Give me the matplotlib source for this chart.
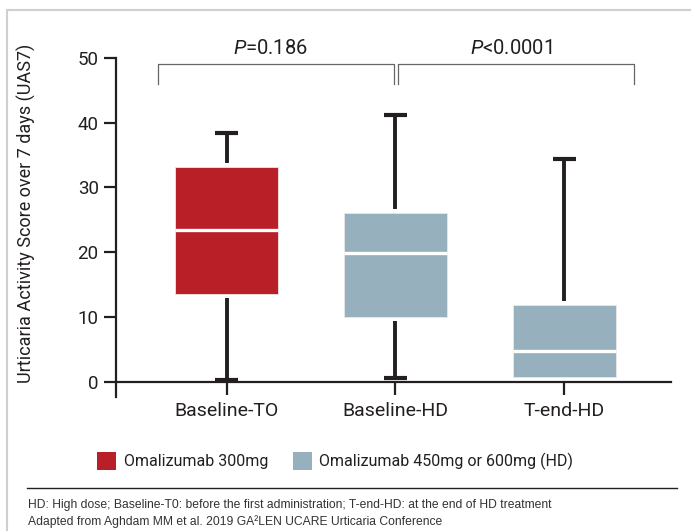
import matplotlib
matplotlib.use('Agg')
import matplotlib.pyplot as plt
from matplotlib.patches import Patch, Rectangle
from matplotlib.lines import Line2D

# values
groups = ['Baseline-TO', 'Baseline-HD', 'T-end-HD']
whis_low = [0.2, 0.6, 0.7]
q1 = [13.5, 10.0, 0.7]
median = [23.4, 19.8, 4.8]
q3 = [33.2, 26.0, 11.9]
whis_high = [38.4, 41.2, 34.4]
box_colors = ['#b81f27', '#97b0be', '#97b0be']

legend_labels = ['Omalizumab 300mg', 'Omalizumab 450mg or 600mg (HD)']
legend_colors = ['#b81f27', '#97b0be']

brackets = [(0.593, 1.99), (2.015, 3.414)]
p_texts = ['$\\it{P}$=0.186', '$\\it{P}$<0.0001']

footnote = ('HD: High dose; Baseline-T0: before the first administration; '
            'T-end-HD: at the end of HD treatment\n'
            'Adapted from Aghdam MM et al. 2019 GA\u00b2LEN UCARE Urticaria Conference')

dark = '#231f20'
plt.rcParams['font.family'] = ['Roboto', 'DejaVu Sans']
plt.rcParams['mathtext.fontset'] = 'custom'
plt.rcParams['mathtext.it'] = 'Roboto:italic'
plt.rcParams['mathtext.rm'] = 'Roboto'

fig = plt.figure(figsize=(6.91, 5.31), dpi=100)
ax = fig.add_axes([116 / 691, 134 / 531, 555 / 691, 371.7 / 531])

stats = []
for i in range(len(groups)):
    stats.append(dict(label=groups[i], whislo=whis_low[i], q1=q1[i], med=median[i],
                      q3=q3[i], whishi=whis_high[i], fliers=[]))

pos = [1, 2, 3]
bp = ax.bxp(stats, positions=pos, widths=0.61, capwidths=0.135, patch_artist=True,
            showfliers=False,
            boxprops=dict(linewidth=0.6, edgecolor='#e8e8e8'),
            medianprops=dict(color='white', linewidth=2.4, solid_capstyle='butt'),
            whiskerprops=dict(color=dark, linewidth=2.8, solid_capstyle='butt'),
            capprops=dict(color=dark, linewidth=3.0, solid_capstyle='butt'))
for patch, c in zip(bp['boxes'], box_colors):
    patch.set_facecolor(c)
    patch.set_zorder(3)
for m in bp['medians']:
    m.set_zorder(4)
gap = 0.6
for i in range(len(groups)):
    lo, hi = bp['whiskers'][2 * i], bp['whiskers'][2 * i + 1]
    lo.set_ydata([q1[i] - gap, whis_low[i]])
    hi.set_ydata([q3[i] + gap, whis_high[i]])
    if whis_low[i] >= q1[i]:
        lo.set_visible(False)
        bp['caps'][2 * i].set_visible(False)

ax.set_xlim(0.345, 3.633)
ax.set_ylim(-2.36, 55)
ax.spines['top'].set_visible(False)
ax.spines['right'].set_visible(False)
ax.spines['left'].set_bounds(-2.36, 50)
ax.spines['bottom'].set_position(('data', 0))
for s in ['left', 'bottom']:
    ax.spines[s].set_linewidth(1.6)
    ax.spines[s].set_color(dark)
ax.set_yticks([0, 10, 20, 30, 40, 50])
ax.set_xticks(pos)
ax.set_xticklabels(groups)
ax.tick_params(axis='y', length=8.5, width=1.6, color=dark, labelsize=13.5, pad=4, labelcolor=dark)
ax.tick_params(axis='x', length=9.5, width=1.6, color=dark, labelsize=14, pad=5, labelcolor=dark)
ax.set_ylabel('Urticaria Activity Score over 7 days (UAS7)', fontsize=13, color=dark)
ax.yaxis.set_label_coords(-0.144, 0.494)

for (x0, x1), txt in zip(brackets, p_texts):
    ax.plot([x0, x0, x1, x1], [45.9, 49.0, 49.0, 45.9], color='#666666', linewidth=0.9,
            clip_on=False)
    ax.text((x0 + x1) / 2 - 0.03, 50.0, txt, ha='center', va='bottom', fontsize=14.5,
            color=dark)

handles = [Patch(facecolor=c, edgecolor='none') for c in legend_colors]
fig.legend(handles, legend_labels, loc='center left', bbox_to_anchor=(83 / 691, 1 - 461 / 531),
           ncol=2, frameon=False, fontsize=11.5, handlelength=1.19, handleheight=1.31,
           handletextpad=0.45, columnspacing=1.55, labelcolor=dark)

fig.add_artist(Rectangle((7 / 691, -0.1), 1.2, 0.1 + (531 - 10) / 531, transform=fig.transFigure,
                         fill=False, edgecolor='#cfcfcf', linewidth=1.5, clip_on=False))
fig.add_artist(Line2D([27 / 691, 677 / 691], [1 - 488 / 531] * 2, transform=fig.transFigure,
                      color=dark, linewidth=1.0))
fig.text(28 / 691, 1 - 499 / 531, footnote, ha='left', va='top', fontsize=8.7,
         family=['Liberation Sans', 'DejaVu Sans'], color='#333333', linespacing=1.4)

fig.savefig('out.png', dpi=100)
